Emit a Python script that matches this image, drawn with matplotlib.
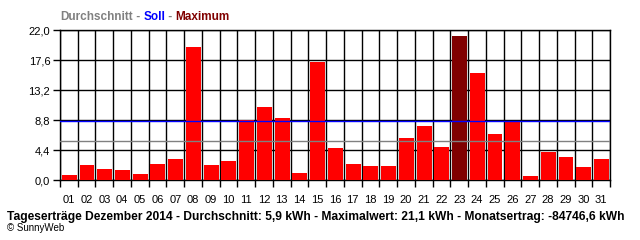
import numpy as np
import matplotlib.pyplot as plt

days = ['%02d' % d for d in range(1, 32)]
values = [0.8, 2.2, 1.7, 1.5, 0.9, 2.4, 3.1, 19.5, 2.2, 2.8, 8.8, 10.8, 9.1, 1.1, 17.3, 4.7,
          2.4, 2.1, 2.1, 6.2, 8.0, 4.9, 21.1, 15.7, 6.8, 8.6, 0.6, 4.2, 3.4, 2.0, 3.1]
avg = 5.7
soll = 8.7
yticks = [0.0, 4.4, 8.8, 13.2, 17.6, 22.0]

plt.rcParams['font.family'] = ['Liberation Sans', 'DejaVu Sans']

fig = plt.figure(figsize=(6.4, 2.4), dpi=100)
ax = fig.add_axes([60 / 640, 1 - 180.3 / 240, 550 / 640, 150 / 240])

imax = int(np.argmax(values))
colors = ['#800000' if i == imax else '#ff0000' for i in range(len(values))]
x = np.arange(len(values))
ax.bar(x + 0.52, values, width=0.84, color=colors, zorder=3)

# grid
for v in yticks:
    ax.axhline(v, color='black', lw=1.0, zorder=2)
for b in range(len(values) + 1):
    ax.axvline(b, color='black', lw=1.0, zorder=2)
ax.axhline(avg, color='#808080', lw=1.0, zorder=4)
ax.axhline(soll, color='#0000ff', lw=1.0, zorder=4)

ax.set_xlim(0, len(values))
ax.set_ylim(0, 22)
ax.set_yticks(yticks)
ax.set_yticklabels([('%.1f' % v).replace('.', ',') for v in yticks], fontsize=8)
ax.set_xticks(np.arange(len(values) + 1))
ax.set_xticklabels([])
ax.set_xticks(x + 0.5, minor=True)
ax.set_xticklabels(days, minor=True, fontsize=8)
ax.tick_params(axis='x', which='minor', length=0, pad=10.5)
ax.tick_params(axis='x', which='major', length=5, width=1.0, direction='out')
ax.tick_params(axis='y', length=5, width=1.0, direction='out', pad=2)
for s in ax.spines.values():
    s.set_linewidth(1.0)

# header legend, pieces placed one after another
r = fig.canvas.get_renderer()
xpos = 60 / 640
for txt, col in [('Durchschnitt', '#808080'), (' - ', '#808080'), ('Soll', '#0000ff'),
                 (' - ', '#808080'), ('Maximum', '#800000')]:
    t = fig.text(xpos, 1 - 17 / 240, txt, color=col, fontsize=8.5, fontweight='bold', va='center')
    xpos += t.get_window_extent(r).width / fig.bbox.width

fig.text(7 / 640, 1 - 217 / 240,
         'Tageserträge Dezember 2014 - Durchschnitt: 5,9 kWh - Maximalwert: 21,1 kWh - Monatsertrag: -84746,6 kWh',
         fontsize=8.65, fontweight='bold', va='center')
fig.text(7 / 640, 1 - 228 / 240, '© SunnyWeb', fontsize=7, va='center')

fig.savefig('out.png', dpi=100)
